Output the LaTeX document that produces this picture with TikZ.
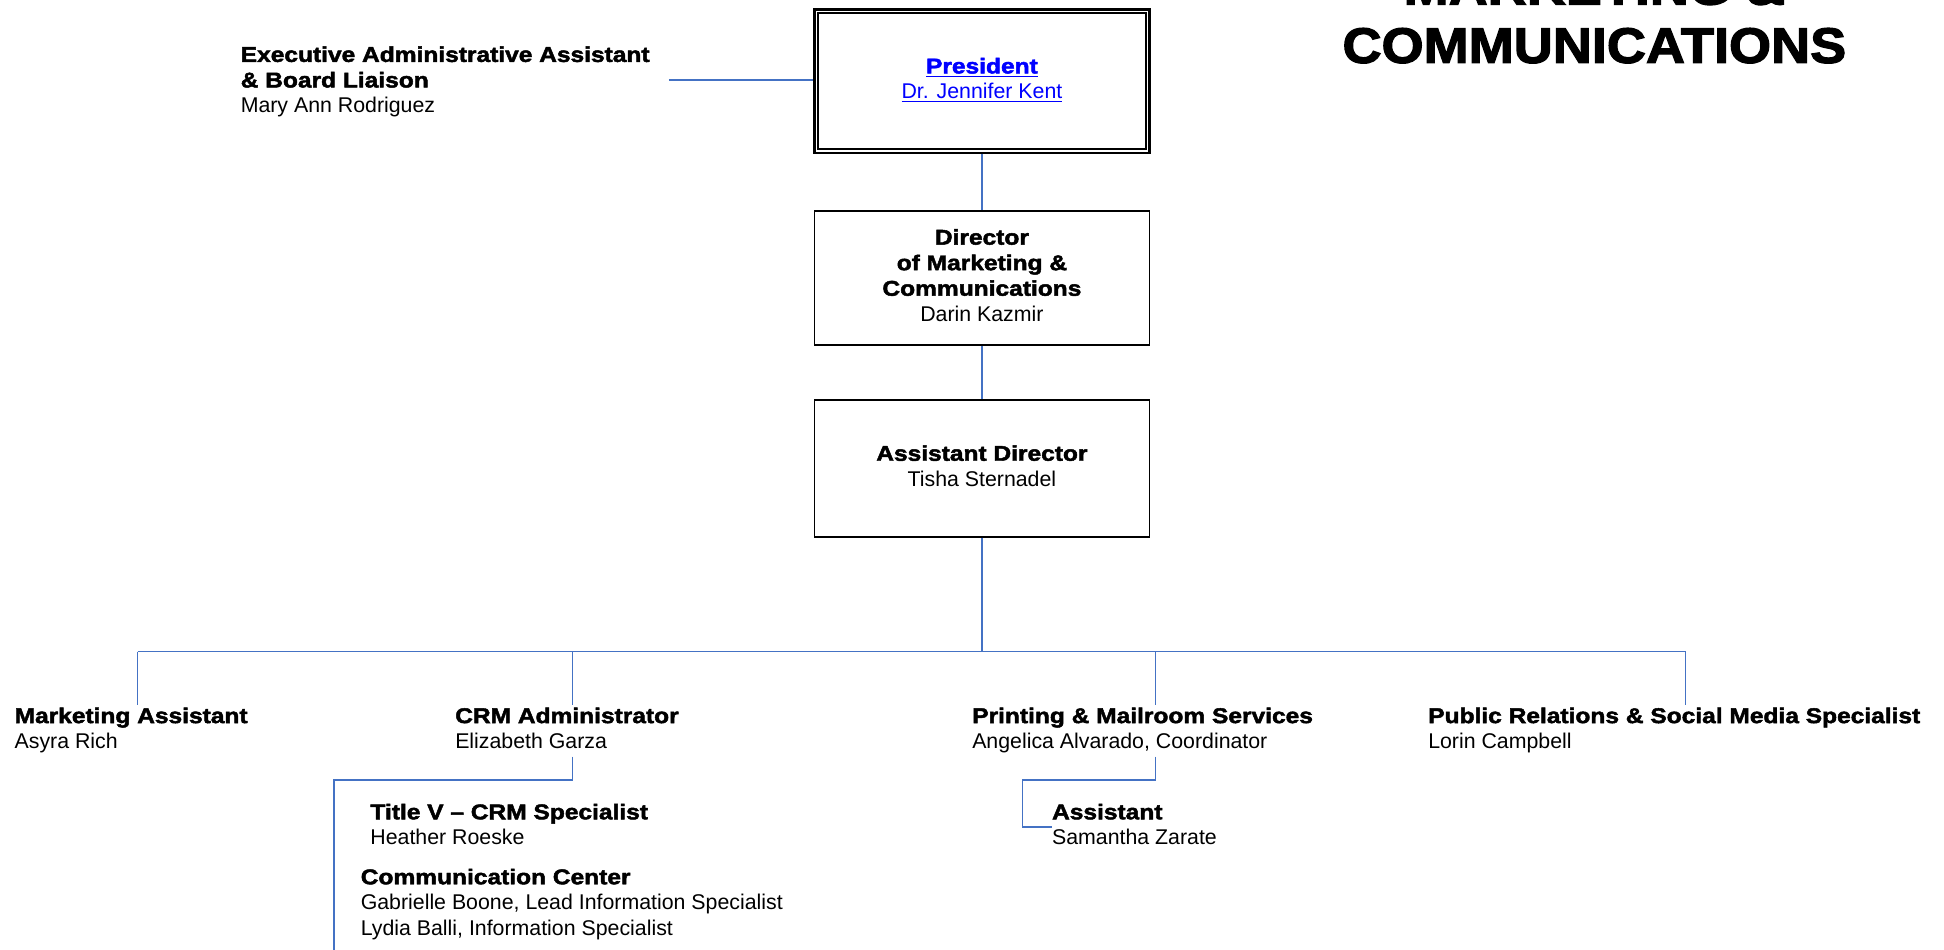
\documentclass[tikz,border=0pt]{standalone}
\usepackage{fontspec}
\setmainfont{Liberation Sans}
\newfontfamily\blk{Liberation Sans Bold}[FakeStretch=1.15, FakeBold=2.2]
\newfontfamily\ttlfont{Liberation Sans Bold}[FakeStretch=1.085, FakeBold=2.5]
\definecolor{lineblue}{HTML}{4472C4}
\definecolor{presblue}{rgb}{0,0,1}
\newcommand\fs{\fontsize{17.2}{20.6}\selectfont}
\newcommand\hd[1]{{\blk #1}}
\newcommand\myul[1]{\setbox0=\hbox{#1}\rlap{\rule[-2.8pt]{\wd0}{1.1pt}}\box0}
\tikzset{
  conn/.style={draw=lineblue, line width=1.3pt},
  lbl/.style={anchor=north west, inner sep=0pt, align=left, font=\fs},
  orgbox/.style={draw=black, line width=1.4pt, minimum width=270.3pt, align=center, inner sep=0pt, font=\fs},
}
\begin{document}
\begin{tikzpicture}[x=1pt, y=-1pt]
\useasboundingbox (0,0) rectangle (1568,766);
\clip (0,0) rectangle (1568,766);
% title
\node[anchor=north, inner sep=0pt, align=center, font=\ttlfont\fontsize{40.2}{47}\selectfont] (title) at (1286,-29.4) {\strut MARKETING \&\\COMMUNICATIONS};
% boxes
\node[orgbox, line width=2pt, minimum height=115.6pt, text=presblue] (pres) at (792,65.4)
  {\strut\myul{\hd{President}}\\\myul{Dr. Jennifer Kent}\strut};
\draw[line width=1.3pt] ([xshift=4pt,yshift=-4pt]pres.north west) rectangle ([xshift=-4pt,yshift=4pt]pres.south east);
\node[orgbox, minimum height=108.3pt] (dir) at (792,224.1)
  {\strut\hd{Director}\\\hd{of Marketing \&}\\\hd{Communications}\\Darin Kazmir\strut};
\node[orgbox, minimum height=110.2pt] (adir) at (792,377.8)
  {\strut\hd{Assistant Director}\\Tisha Sternadel\strut};
% labels
\node[lbl] (exec) at (194,35.3) {\strut\hd{Executive Administrative Assistant}\\\hd{\& Board Liaison}\\Mary Ann Rodriguez\strut};
\node[lbl] (ma) at (11.6,568.6) {\strut\hd{Marketing Assistant}\\Asyra Rich\strut};
\node[lbl] (crm) at (367,568.6) {\strut\hd{CRM Administrator}\\Elizabeth Garza\strut};
\node[lbl] (pm) at (784,568.6) {\strut\hd{Printing \& Mailroom Services}\\Angelica Alvarado, Coordinator\strut};
\node[lbl] (pr) at (1151.8,568.6) {\strut\hd{Public Relations \& Social Media Specialist}\\Lorin Campbell\strut};
\node[lbl] (tv) at (298.6,646.2) {\strut\hd{Title V – CRM Specialist}\\Heather Roeske\strut};
\node[lbl] (cc) at (290.8,698.6) {\strut\hd{Communication Center}\\Gabrielle Boone, Lead Information Specialist\\Lydia Balli, Information Specialist\strut};
\node[lbl] (asst) at (848.4,646.2) {\strut\hd{Assistant}\\Samantha Zarate\strut};
% coordinates
\coordinate (exend) at (539.5,64.5);
\coordinate (d1) at (111,525.6);
\coordinate (d2) at (461.7,525.6);
\coordinate (d3) at (932,525.6);
\coordinate (d4) at (1359.6,525.6);
\coordinate (j1) at (269.5,629);
\coordinate (cend) at (269.5,780);
\coordinate (j2) at (824.7,629);
% connectors
\draw[conn] (exend) -- (exend -| pres.west);
\draw[conn] (pres.south) -- (dir.north);
\draw[conn] (dir.south) -- (adir.north);
\draw[conn] (adir.south) -- (adir.south |- d1);
\draw[conn] (d1) -- (d4);
\draw[conn] (d1) -- (d1 |- ma.north);
\draw[conn] (d2) -- (d2 |- crm.north);
\draw[conn] (d3) -- (d3 |- pm.north);
\draw[conn] (d4) -- (d4 |- pr.north);
\draw[conn] (crm.south -| d2) |- (j1) -- (cend);
\draw[conn] (pm.south -| d3) |- (j2) |- (asst.west);
\end{tikzpicture}
\end{document}
